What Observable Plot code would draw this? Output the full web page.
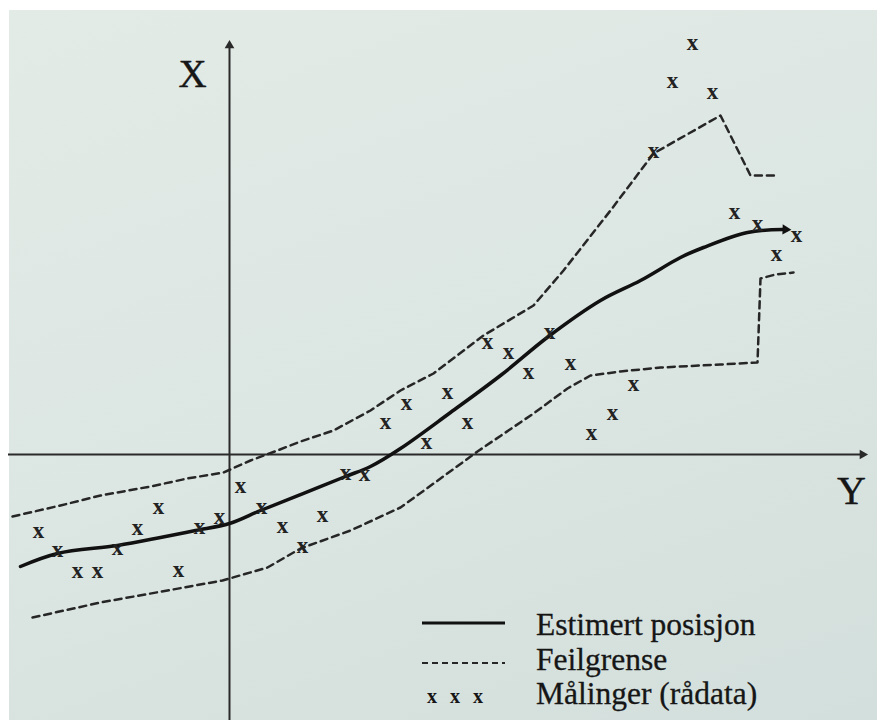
<!DOCTYPE html>
<html>
<head>
<meta charset="utf-8">
<script src="https://cdn.jsdelivr.net/npm/d3@7"></script>
<script src="https://cdn.jsdelivr.net/npm/@observablehq/plot@0.6"></script>
<style>
  html, body { margin: 0; padding: 0; background: #ffffff; }
  #wrap { position: relative; width: 877px; height: 720px; overflow: hidden; }
  #wrap svg.plot { display: block; }
  #legend { position: absolute; left: 0; top: 0; pointer-events: none; }
</style>
</head>
<body>
<div id="wrap"></div>
<script>
// ---- Data (units: horizontal = Y-axis direction, vertical = X-axis direction; origin at axes crossing)
// Estimated position (solid line)
const estU = [-209, -172, -112, -69, -34, 0, 31, 71, 116, 141, 171, 221, 271, 319, 371, 411, 451, 474, 518, 553];
const estV = [-112, -99, -91, -83, -76, -69, -56, -40, -22, -12, 6, 42, 79, 118, 154, 174, 197, 207, 222, 225];

// Error bound, upper (dashed)
const upU = [-217, -169, -129, -79, -42, -6, 21, 48, 71, 104, 141, 171, 204, 254, 304, 334, 381, 424, 491, 521, 548];
const upV = [-62, -51, -41, -32, -24, -18, -6, 4, 13, 24, 44, 64, 81, 119, 149, 184, 244, 301, 339, 279, 279];

// Error bound, lower (dashed)
const loU = [-197, -129, -62, -7, 38, 71, 121, 171, 211, 248, 304, 338, 361, 391, 431, 491, 528, 531, 546, 564];
const loV = [-163, -148, -136, -126, -113, -94, -76, -53, -24, 3, 41, 66, 79, 83, 87, 90, 92, 176, 180, 182];

// Measurements (raw data, "x" marks)
const measU = [-191, -172, -152, -132, -112, -92, -71, -51, -30, -10, 11, 32, 53, 73, 93, 116, 135,
               156, 177, 197, 218, 238, 258, 279, 299, 320, 341, 362, 383, 404, 424, 443, 463, 483, 505, 528, 547, 567];
const measV = [-78, -97, -118, -118, -95, -75, -54, -117, -74, -64, -33, -54, -73, -93, -62, -20, -21,
               31, 50, 11, 61, 31, 111, 101, 81, 121, 90, 20, 40, 69, 302, 372, 410, 361, 241, 229, 199, 218];

// Axis extents and labels
const axisU = [-221, 633];   // horizontal axis (Y) from / to
const axisV = [-266, 409];   // vertical axis (X) from / to
const axisLabels = ["X", "Y"];

// Legend
const legendLabels = ["Estimert posisjon", "Feilgrense", "Målinger (rådata)"];

// ---- Build tables
const est = estU.map((u, i) => ({u, v: estV[i]}));
const up = upU.map((u, i) => ({u, v: upV[i]}));
const lo = loU.map((u, i) => ({u, v: loV[i]}));
const meas = measU.map((u, i) => ({u, v: measV[i]}));
const last = est[est.length - 1];

const serif = "'Liberation Serif', 'DejaVu Serif', serif";
const ink = "#161616";

const chart = Plot.plot({
  width: 877,
  height: 720,
  margin: 0,
  x: {domain: [-229, 648], axis: null},
  y: {domain: [-266, 454], axis: null},
  style: {
    background: "linear-gradient(160deg, #e3ebe6 0%, #dce6e2 50%, #d3dfdc 100%) 9px 10px / 868px 710px no-repeat, #ffffff",
    fontFamily: serif
  },
  marks: [
    // axes
    Plot.ruleY([0], {x1: axisU[0], x2: axisU[1], stroke: "#2a2a2a", strokeWidth: 2}),
    Plot.ruleX([0], {y1: axisV[0], y2: axisV[1], stroke: "#2a2a2a", strokeWidth: 2}),
    Plot.dot([{u: 0, v: axisV[1]}], {x: "u", y: "v", symbol: "triangle", r: 3.6, fill: "#2a2a2a", stroke: "none"}),
    Plot.dot([{u: axisU[1], v: 0}], {x: "u", y: "v", symbol: "triangle", r: 3.6, rotate: 90, fill: "#2a2a2a", stroke: "none"}),
    // axis labels
    Plot.text([axisLabels[0]], {x: 0, y: axisV[1], dx: -37, dy: 29, fontSize: 39, fill: ink, fontFamily: serif, stroke: ink, strokeWidth: 0.4}),
    Plot.text([axisLabels[1]], {x: axisU[1], y: 0, dx: -11, dy: 37, fontSize: 40, fill: ink, fontFamily: serif, stroke: ink, strokeWidth: 0.4}),
    // error bounds
    Plot.line(up, {x: "u", y: "v", stroke: "#262626", strokeWidth: 2.5, strokeDasharray: "7,5"}),
    Plot.line(lo, {x: "u", y: "v", stroke: "#262626", strokeWidth: 2.5, strokeDasharray: "7,5"}),
    // estimated position
    Plot.line(est, {x: "u", y: "v", stroke: "#111", strokeWidth: 3.5, curve: "catmull-rom"}),
    Plot.dot([last], {x: "u", y: "v", symbol: "triangle", r: 3.8, rotate: 92, fill: "#111", stroke: "none", dx: 3}),
    // measurements
    Plot.text(meas, {x: "u", y: "v", text: () => "x", fontSize: 23, fontWeight: "bold", fill: "#222", fontFamily: serif, dy: -2})
  ]
});
chart.classList.add("plot");
document.getElementById("wrap").appendChild(chart);

// ---- Legend overlay
const ns = "http://www.w3.org/2000/svg";
const lg = d3.create("svg").attr("id", "legend").attr("width", 877).attr("height", 720)
  .attr("xmlns", ns);
const g = lg.append("g").attr("font-family", serif).attr("fill", ink);
g.append("line").attr("x1", 422).attr("x2", 505).attr("y1", 623).attr("y2", 623)
  .attr("stroke", "#111").attr("stroke-width", 3);
g.append("line").attr("x1", 422).attr("x2", 505).attr("y1", 663).attr("y2", 663)
  .attr("stroke", "#262626").attr("stroke-width", 2.2).attr("stroke-dasharray", "6,4");
[432, 455, 478].forEach(x => {
  g.append("text").attr("x", x).attr("y", 703).attr("text-anchor", "middle")
    .attr("font-size", 20).attr("font-weight", "bold").text("x");
});
const baselines = [635, 670, 704];
legendLabels.forEach((t, i) => {
  g.append("text").attr("x", 536).attr("y", baselines[i]).attr("font-size", 31.5)
    .attr("stroke", ink).attr("stroke-width", 0.3).text(t);
});
document.getElementById("wrap").appendChild(lg.node());
</script>
</body>
</html>
